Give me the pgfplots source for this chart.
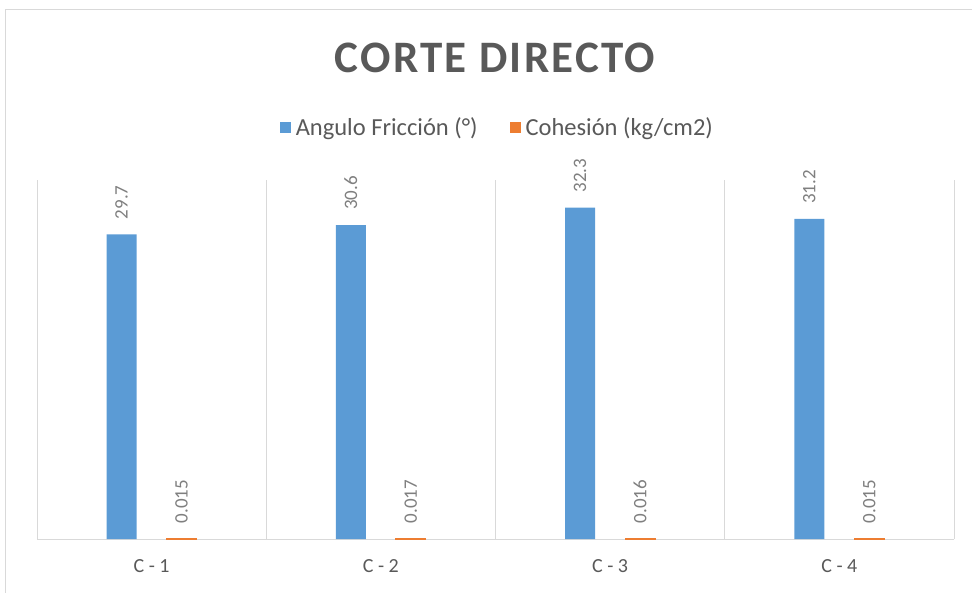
\documentclass[border=0pt]{standalone}
\usepackage{pgfplots}
\pgfplotsset{compat=1.18}
\usepackage{fontspec}
\setmainfont{Carlito}
\definecolor{blueB}{HTML}{5B9BD5}
\definecolor{orangeB}{HTML}{ED7D31}
\definecolor{gridc}{HTML}{D9D9D9}
\definecolor{txt}{HTML}{595959}
\definecolor{lbl}{HTML}{7F7F7F}
\newfontfamily\titlefont[LetterSpace=5]{Carlito}
\begin{document}
\begin{tikzpicture}[x=1pt,y=1pt]
\useasboundingbox (0,0) rectangle (972,592);
\draw[gridc, line width=1pt] (5,-2) -- (5,582) -- (975,582);
\node[font=\titlefont\fontsize{45}{50}\selectfont\bfseries, text=txt] at (495,534) {CORTE DIRECTO};
\begin{axis}[
  at={(37pt,53pt)}, anchor=south west,
  scale only axis, width=917pt, height=359pt,
  xmin=-0.5, xmax=3.5, ymin=0, ymax=35,
  ybar=30pt, bar width=30pt,
  axis x line=bottom, axis y line=none,
  x axis line style={-, gridc, line width=1pt},
  xtick={0,1,2,3},
  xticklabels={\mbox{C - 1},\mbox{C - 2},\mbox{C - 3},\mbox{C - 4}},
  major tick length=0pt, minor tick length=0pt,
  minor xtick={-0.5,0.5,1.5,2.5,3.5},
  xminorgrids, minor grid style={gridc, line width=0.8pt},
  xticklabel style={font=\fontsize{20}{24}\selectfont, text=txt, yshift=-17pt},
  ytick=\empty,
  clip=false,
  point meta=explicit symbolic,
  nodes near coords,
  every node near coord/.append style={rotate=90, anchor=west, font=\fontsize{19}{22}\selectfont, text=lbl, inner xsep=15pt},
  legend columns=2,
  legend style={at={(0.502,1.1476)}, anchor=center, draw=none, fill=none,
    font=\fontsize{24.5}{28}\selectfont, text=txt,
    /tikz/every even column/.append style={column sep=30pt}},
  legend image code/.code={\fill[#1, draw=none] (0pt,-5.5pt) rectangle (11pt,5.5pt); \path[draw=none, fill=none] (0pt,0pt) -- (14pt,0pt);},
]
\addplot[fill=blueB, draw=none] coordinates {(0,29.7) [29.7] (1,30.6) [30.6] (2,32.3) [32.3] (3,31.2) [31.2]};
\addplot[fill=orangeB, draw=orangeB, line width=1pt] coordinates {(0,0.015) [0.015] (1,0.017) [0.017] (2,0.016) [0.016] (3,0.015) [0.015]};
\legend{Angulo Fricción (°), Cohesión (kg/cm2)}
\end{axis}
\end{tikzpicture}
\end{document}
